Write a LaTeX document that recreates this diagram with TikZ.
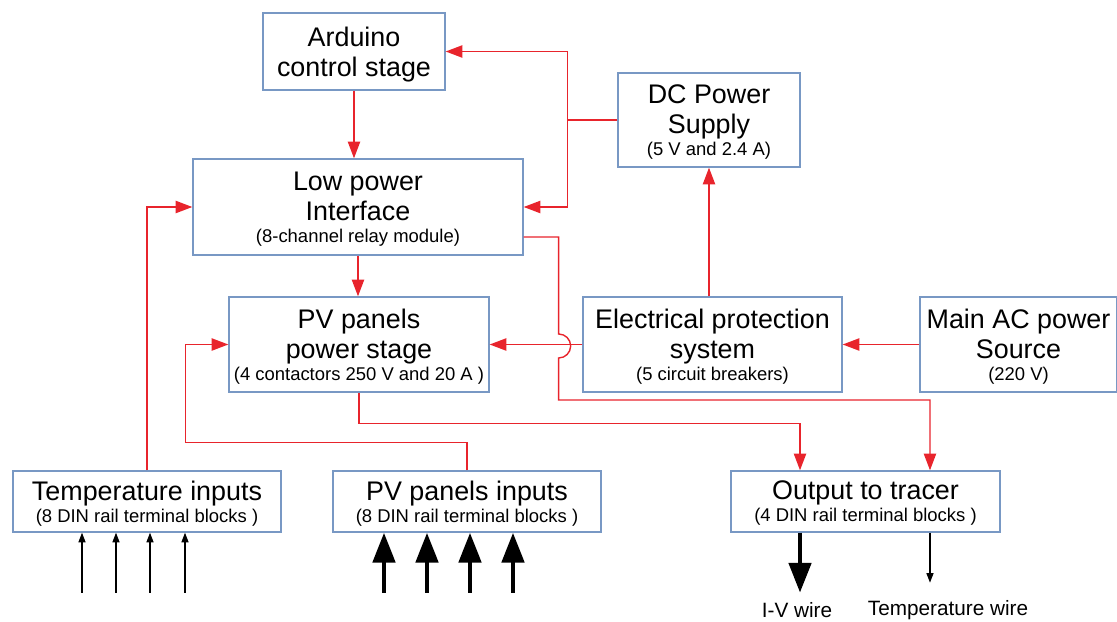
\documentclass[tikz,border=0pt]{standalone}
\usepackage{fontspec}
\setmainfont{Liberation Sans}
\usepackage{xcolor}
\usetikzlibrary{positioning, arrows.meta}

\definecolor{boxblue}{RGB}{120,152,196}
\definecolor{wirered}{RGB}{232,36,44}

\newcommand{\subtxt}[1]{{\fontsize{10.5}{12}\selectfont #1}}

\begin{document}
\begin{tikzpicture}[
            x=0.02cm, y=-0.02cm, % one unit = one pixel
            block/.style={rectangle, draw=boxblue, line width=0.8pt, align=center, inner sep=2pt, text depth=0pt, font=\fontsize{15.3}{17}\selectfont},
            link/.style={draw=wirered, line width=0.8pt, -{Triangle[length=9.5pt, width=7pt]}},
            wire/.style={draw=wirered, line width=0.8pt},
            sig/.style={line width=0.8pt, -{Triangle[length=5.5pt, width=4pt]}},
            power/.style={line width=2.8pt, -{Triangle[length=17pt, width=12.5pt]}},
            lbl/.style={font=\fontsize{11.8}{14}\selectfont}
        ]
            \useasboundingbox (0,0) rectangle (1117,622);

            \node[block, minimum width=3.64cm, minimum height=1.54cm] (ard) at (354,51.5) {Arduino\\control stage};
            \node[block, minimum width=3.64cm, minimum height=1.88cm] (dc) at (709,120) {DC Power\\Supply\\[-4.5pt]\subtxt{(5 V and 2.4 A)}};
            \node[block, minimum width=6.6cm, minimum height=1.92cm] (low) at (358,207) {Low power\\Interface\\[-4.5pt]\subtxt{(8-channel relay module)}};
            \node[block, minimum width=5.2cm, minimum height=1.9cm] (pvs) at (359,344.5) {PV panels\\power stage\\[-4.5pt]\subtxt{(4 contactors 250 V and 20 A )}};
            \node[block, minimum width=5.18cm, minimum height=1.9cm] (prot) at (712.5,344.5) {Electrical protection\\system\\[-4.5pt]\subtxt{(5 circuit breakers)}};
            \node[block, minimum width=3.94cm, minimum height=1.9cm] (ac) at (1018.5,344.5) {Main AC power\\Source\\[-4.5pt]\subtxt{(220 V)}};
            \node[block, minimum width=5.36cm, minimum height=1.22cm] (tin) at (147,501.5) {Temperature inputs\\[-4.5pt]\subtxt{(8 DIN rail terminal blocks )}};
            \node[block, minimum width=5.36cm, minimum height=1.22cm] (pin) at (467,501.5) {PV panels inputs\\[-4.5pt]\subtxt{(8 DIN rail terminal blocks )}};
            \node[block, minimum width=5.38cm, minimum height=1.22cm] (out) at (865.5,501.5) {Output to tracer\\[-4.5pt]\subtxt{(4 DIN rail terminal blocks )}};

            \node[lbl] (ivlbl) at (797,610) {I-V wire};
            \node[lbl] (tmplbl) at (948,610) {Temperature wire};

            % control side
            \draw[link] (ard.south) -- (ard.south |- low.north);
            \draw[wire] (dc.west) -- ++(-50,0) coordinate (split);
            \draw[link] (split) |- (ard.east);
            \draw[link] (split) |- (low.east);
            \draw[link] (low.south) -- (low.south |- pvs.north);
            \draw[link] (tin.north) |- (low.west);
            \draw[link] ([yshift=-0.6cm]low.east) -- ++(35,0) -- ++(0,97)
                arc[start angle=90, end angle=-90, radius=0.24cm] -- ++(0,42) -| ([xshift=1.29cm]out.north);

            % power side
            \draw[link] (ac.west) -- (prot.east);
            \draw[link] (prot.west) -- (pvs.east);
            \draw[link] (prot.north -| dc.south) -- (dc.south);
            \draw[link] (pin.north) -- ++(0,-28) -| ([xshift=-0.86cm]pvs.west) -- (pvs.west);
            \draw[link] (pvs.south) -- ++(0,31) -| ([xshift=-1.31cm]out.north);

            % terminal wires
            \foreach \dx in {-65,-31,3,38}
                \draw[sig] ([xshift=\dx*0.02cm, yshift=-1.2cm]tin.south) -- ([xshift=\dx*0.02cm]tin.south);
            \foreach \dx in {-83,-40,3,46}
                \draw[power] ([xshift=\dx*0.02cm, yshift=-1.2cm]pin.south) -- ([xshift=\dx*0.02cm]pin.south);
            \draw[power] ([xshift=-1.31cm]out.south) -- ++(0,60);
            \draw[sig] ([xshift=1.29cm]out.south) -- ++(0,50);
        \end{tikzpicture}
\end{document}
